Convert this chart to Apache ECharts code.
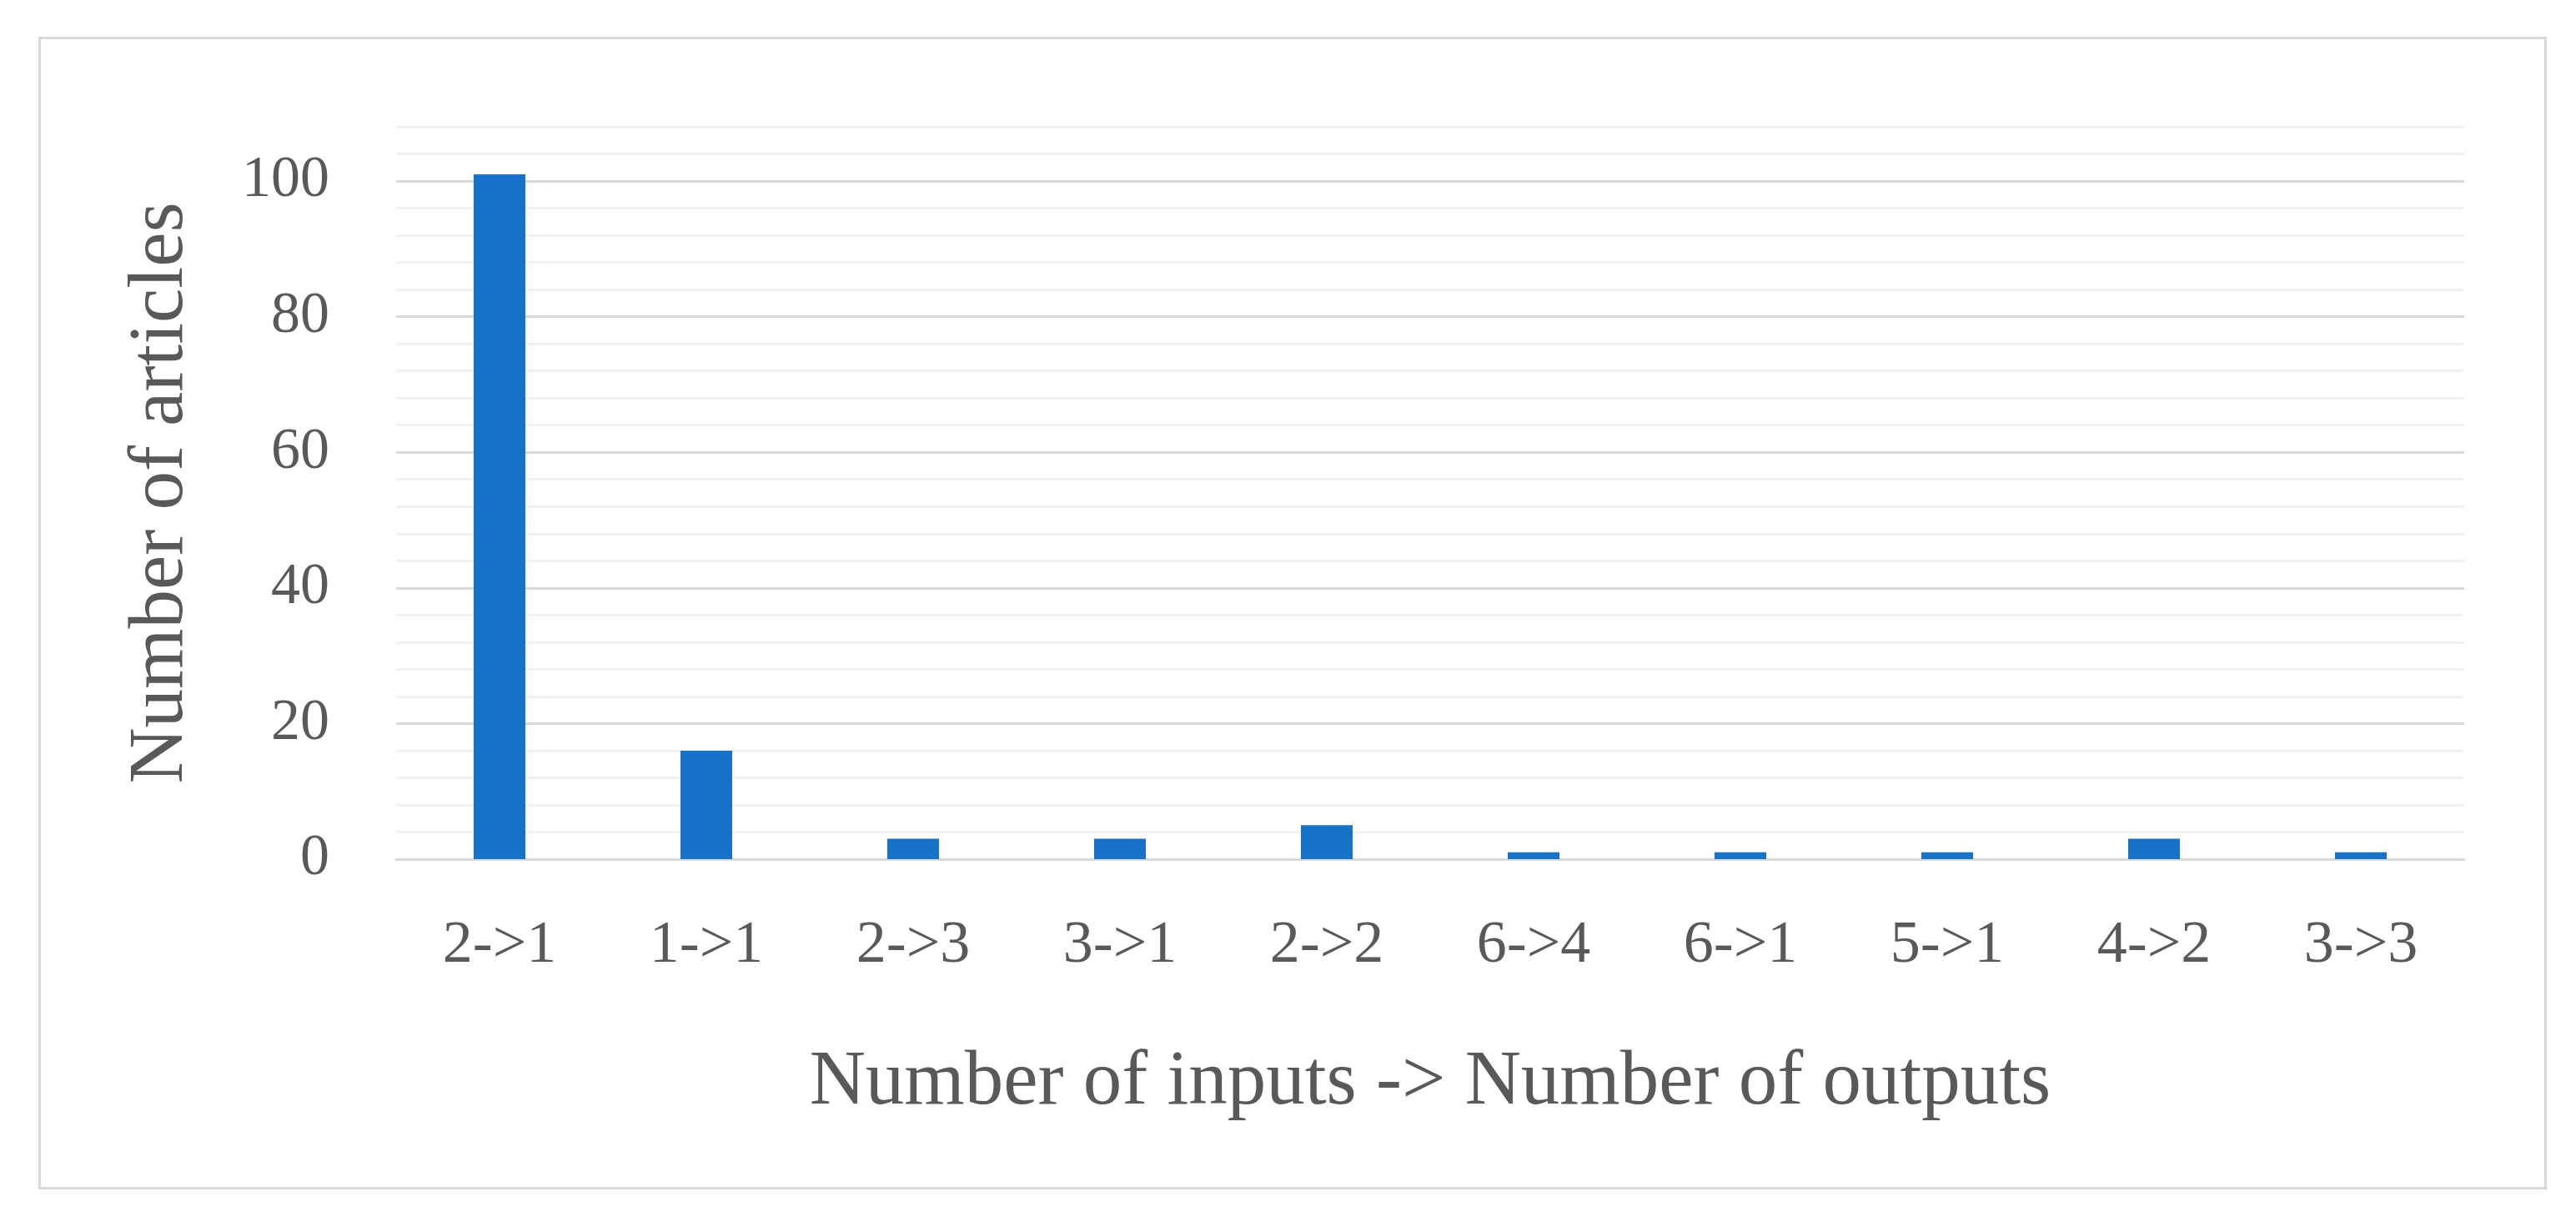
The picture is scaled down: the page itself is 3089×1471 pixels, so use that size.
<!DOCTYPE html>
<html>
<head>
<meta charset="utf-8">
<script src="https://cdn.jsdelivr.net/npm/echarts@6/dist/echarts.min.js"></script>
<style>
html, body { margin: 0; padding: 0; background: #fff; }
#frame { position: absolute; left: 46px; top: 44px; width: 3002px; height: 1376px; border: 3px solid #d9d9d9; }
#chart { width: 3089px; height: 1471px; }
</style>
</head>
<body>
<div id="frame"></div>
<div id="chart"></div>
<script>
var categories = ['2->1', '1->1', '2->3', '3->1', '2->2', '6->4', '6->1', '5->1', '4->2', '3->3'];
var articles = [101, 16, 3, 3, 5, 1, 1, 1, 3, 1];
var yTicks = [0, 20, 40, 60, 80, 100];

var font = '"Liberation Serif", "DejaVu Serif", serif';
var gridColors = ['#d9d9d9', '#f2f2f2', '#f2f2f2', '#f2f2f2', '#f2f2f2'];

var option = {
	animation : false,
	grid : {
		left : 475,
		right : 134,
		top : 152,
		bottom : 441
	},
	xAxis : {
		type : 'category',
		data : categories,
		axisLine : { lineStyle : { color : '#d9d9d9', width : 3 } },
		axisTick : { show : false },
		axisLabel : { color : '#595959', fontFamily : font, fontSize : 72, margin : 68 },
		name : 'Number of inputs -> Number of outputs',
		nameLocation : 'middle',
		nameGap : 222,
		nameTextStyle : { color : '#595959', fontFamily : font, fontSize : 93 }
	},
	yAxis : {
		type : 'value',
		min : 0,
		max : 108,
		interval : 4,
		axisLine : { show : false },
		axisTick : { show : false },
		axisLabel : {
			color : '#595959', fontFamily : font, fontSize : 70, margin : 80,
			formatter : function(v) { return yTicks.indexOf(v) >= 0 ? String(v) : ''; }
		},
		splitLine : { lineStyle : { color : gridColors, width : 3 } },
		name : 'Number of articles',
		nameLocation : 'middle',
		nameGap : 235,
		nameTextStyle : { color : '#595959', fontFamily : font, fontSize : 93 }
	},
	series : [ {
		type : 'bar',
		data : articles,
		barWidth : 62,
		itemStyle : { color : '#1873c8' }
	} ]
};
var chart = echarts.init(document.getElementById('chart'));
chart.setOption(option);
</script>
</body>
</html>
